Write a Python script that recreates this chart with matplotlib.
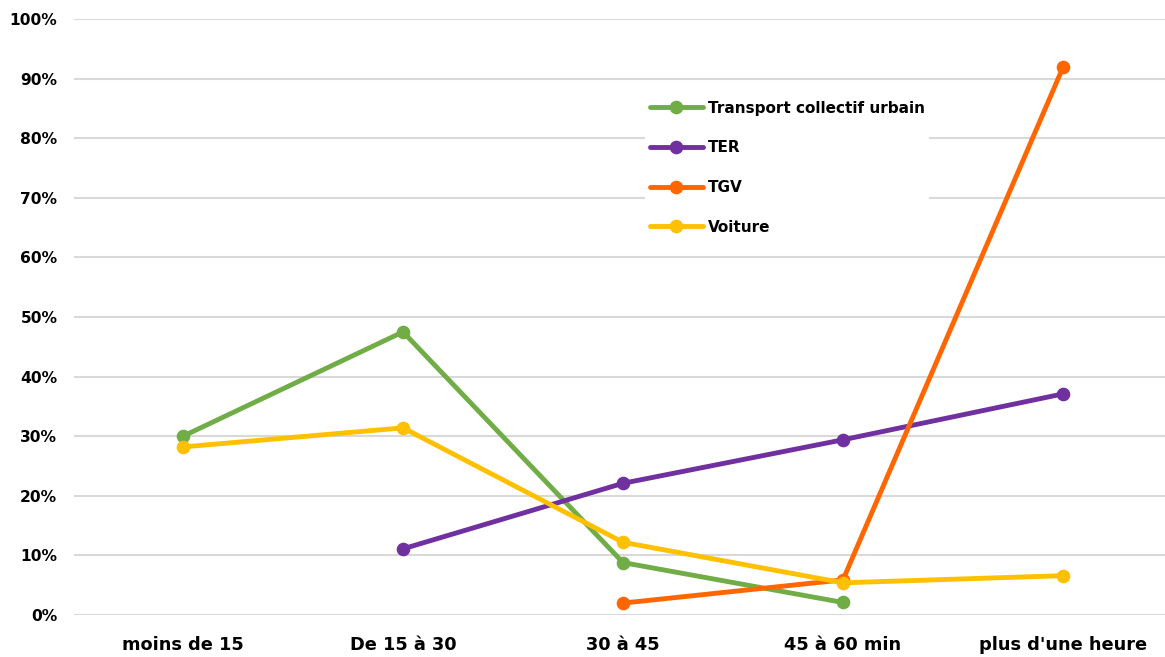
import matplotlib
matplotlib.use("Agg")
import matplotlib.pyplot as plt
import numpy as np
from matplotlib.ticker import PercentFormatter

categories = ["moins de 15", "De 15 à 30", "30 à 45", "45 à 60 min", "plus d'une heure"]
tcu = [30.0, 47.5, 8.8, 2.1, None]
ter = [None, 11.1, 22.1, 29.4, 37.1]
tgv = [None, None, 2.0, 5.9, 91.9]
voiture = [28.2, 31.4, 12.2, 5.4, 6.6]

series = [
    ("Transport collectif urbain", tcu, "#70AD47"),
    ("TER", ter, "#7030A0"),
    ("TGV", tgv, "#FF6600"),
    ("Voiture", voiture, "#FFC000"),
]

plt.rcParams['font.family'] = ['DejaVu Sans']

fig = plt.figure(figsize=(11.65, 6.57), dpi=100)
W, H = 1165, 657
ax = fig.add_axes([74 / W, (H - 615) / H, (1165 - 74) / W, (615 - 19) / H])

x = np.arange(len(categories))
for name, vals, col in series:
    y = np.array([np.nan if v is None else v for v in vals], dtype=float)
    ax.plot(x, y, color=col, lw=3.5, marker='o', markersize=8.8, label=name,
            solid_capstyle='round', zorder=3)

ax.set_ylim(0, 100)
ax.set_xlim((74 - 183) / 220, (1165 - 183) / 220)
ax.set_yticks(np.arange(0, 101, 10))
ax.yaxis.set_major_formatter(PercentFormatter(decimals=0))
ax.set_xticks(x)
ax.set_xticklabels(categories)
ax.grid(axis='y', color='#D9D9D9', lw=1.5, zorder=0)
ax.set_axisbelow(True)
for s in ax.spines.values():
    s.set_visible(False)
ax.tick_params(axis='both', length=0)
ax.tick_params(axis='y', pad=12, labelsize=11.2)
ax.tick_params(axis='x', pad=15, labelsize=12.8)
for lbl in ax.get_yticklabels() + ax.get_xticklabels():
    lbl.set_fontweight('bold')

leg = fig.legend(loc='upper left', bbox_to_anchor=(645 / W, 1 - 96 / H),
                 frameon=True, facecolor='white', edgecolor='none', framealpha=1,
                 fancybox=False, prop={'weight': 'bold', 'size': 11},
                 handlelength=3.5, handletextpad=0.3, labelspacing=1.62,
                 borderpad=0.3, borderaxespad=0)

fig.savefig("out.png", dpi=100)
